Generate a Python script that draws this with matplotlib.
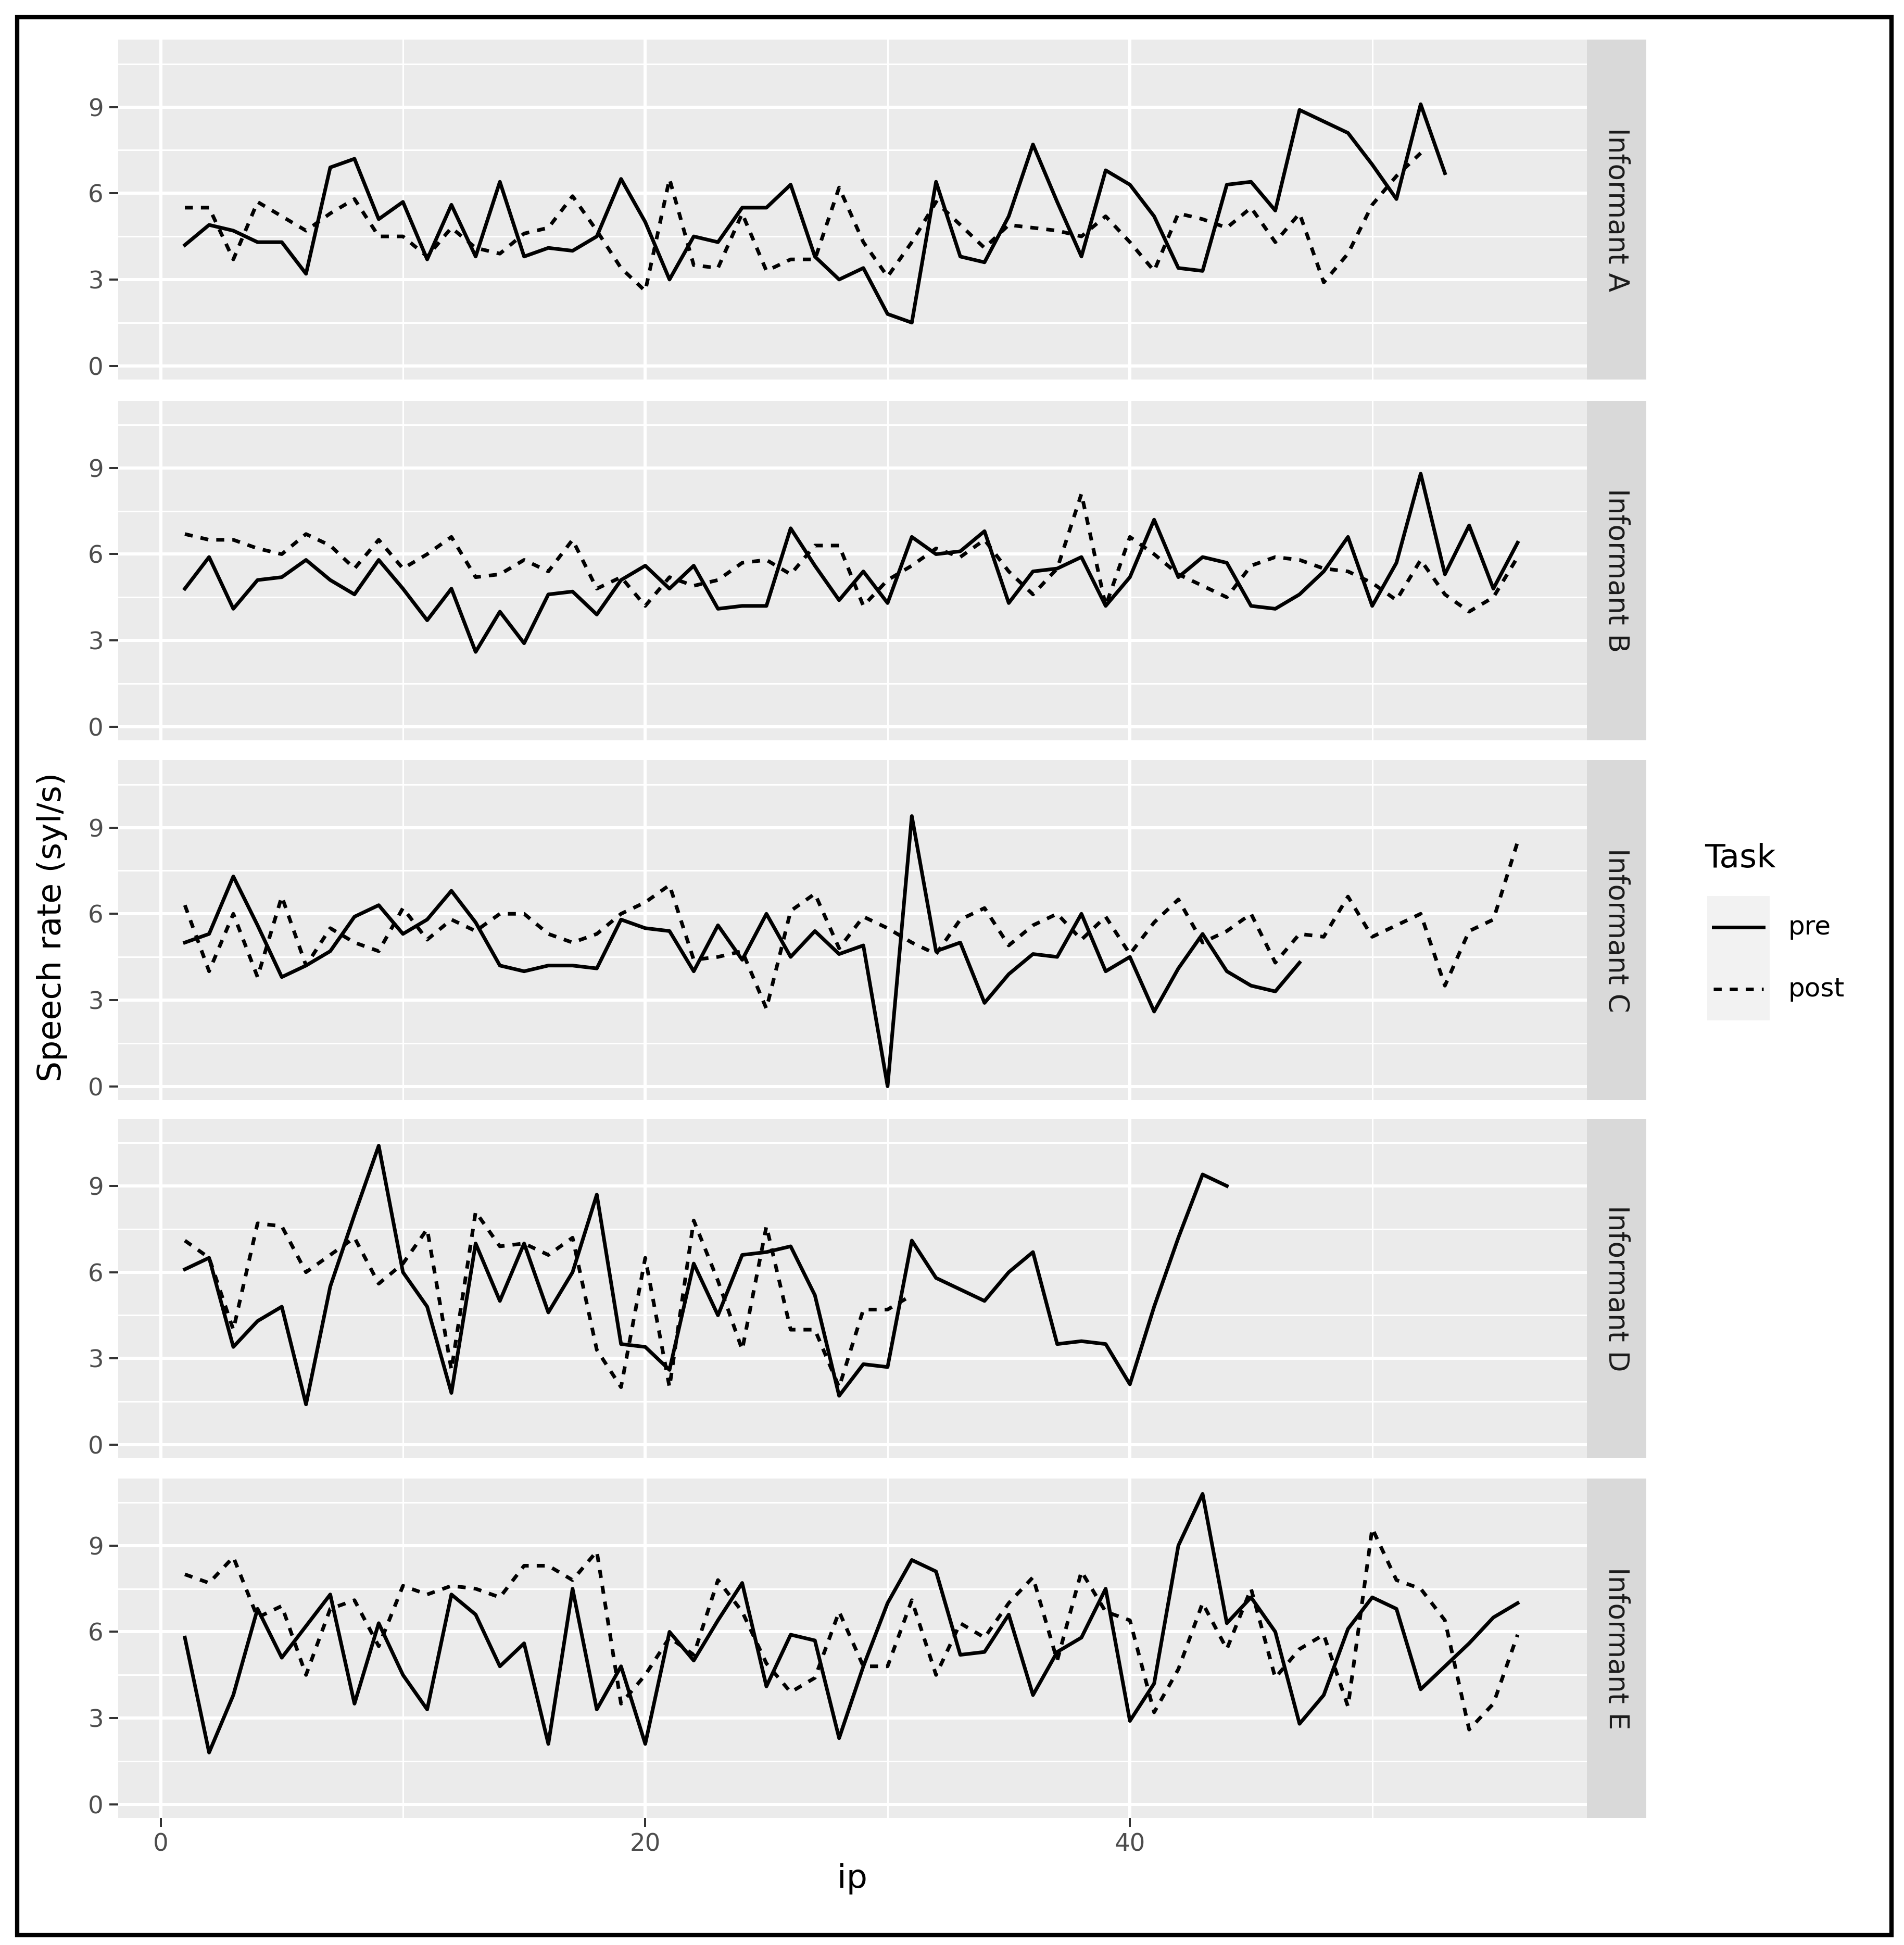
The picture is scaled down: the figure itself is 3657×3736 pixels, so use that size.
import matplotlib
matplotlib.use("Agg")
import matplotlib.pyplot as plt
from matplotlib.lines import Line2D
from matplotlib.patches import Rectangle

informants = ["Informant A", "Informant B", "Informant C", "Informant D", "Informant E"]

pre_A = [4.2,4.9,4.7,4.3,4.3,3.2,6.9,7.2,5.1,5.7,3.7,5.6,3.8,6.4,3.8,4.1,4.0,4.5,6.5,5.0,3.0,4.5,4.3,5.5,5.5,6.3,3.8,3.0,3.4,1.8,1.5,6.4,3.8,3.6,5.2,7.7,5.7,3.8,6.8,6.3,5.2,3.4,3.3,6.3,6.4,5.4,8.9,8.5,8.1,7.0,5.8,9.1,6.7]
post_A = [5.5,5.5,3.7,5.7,5.2,4.7,5.3,5.8,4.5,4.5,3.8,4.8,4.1,3.9,4.6,4.8,5.9,4.7,3.4,2.6,6.5,3.5,3.4,5.3,3.3,3.7,3.7,6.2,4.3,3.1,4.3,5.7,4.9,4.1,4.9,4.8,4.7,4.5,5.2,4.3,3.3,5.3,5.1,4.8,5.5,4.3,5.3,2.9,3.9,5.6,6.6,7.4]
pre_B = [4.8,5.9,4.1,5.1,5.2,5.8,5.1,4.6,5.8,4.8,3.7,4.8,2.6,4.0,2.9,4.6,4.7,3.9,5.1,5.6,4.8,5.6,4.1,4.2,4.2,6.9,5.6,4.4,5.4,4.3,6.6,6.0,6.1,6.8,4.3,5.4,5.5,5.9,4.2,5.2,7.2,5.2,5.9,5.7,4.2,4.1,4.6,5.4,6.6,4.2,5.7,8.8,5.3,7.0,4.8,6.4]
post_B = [6.7,6.5,6.5,6.2,6.0,6.7,6.3,5.5,6.5,5.5,6.0,6.6,5.2,5.3,5.8,5.4,6.5,4.8,5.2,4.2,5.2,4.9,5.1,5.7,5.8,5.3,6.3,6.3,4.2,5.1,5.6,6.2,5.9,6.5,5.4,4.6,5.5,8.1,4.2,6.6,6.0,5.3,4.9,4.5,5.6,5.9,5.8,5.5,5.4,5.0,4.4,5.8,4.6,4.0,4.5,5.9]
pre_C = [5.0,5.3,7.3,5.6,3.8,4.2,4.7,5.9,6.3,5.3,5.8,6.8,5.7,4.2,4.0,4.2,4.2,4.1,5.8,5.5,5.4,4.0,5.6,4.4,6.0,4.5,5.4,4.6,4.9,0.0,9.4,4.7,5.0,2.9,3.9,4.6,4.5,6.0,4.0,4.5,2.6,4.1,5.3,4.0,3.5,3.3,4.3]
post_C = [6.3,4.0,6.0,3.8,6.6,4.2,5.5,5.0,4.7,6.2,5.1,5.8,5.4,6.0,6.0,5.3,5.0,5.3,6.0,6.4,7.0,4.4,4.5,4.7,2.7,6.1,6.7,4.8,5.9,5.5,5.0,4.6,5.8,6.2,4.9,5.6,6.0,5.1,5.9,4.6,5.7,6.5,5.0,5.4,6.0,4.3,5.3,5.2,6.6,5.2,5.6,6.0,3.5,5.4,5.8,8.5]
pre_D = [6.1,6.5,3.4,4.3,4.8,1.4,5.5,8.0,10.4,6.0,4.8,1.8,7.0,5.0,7.0,4.6,6.0,8.7,3.5,3.4,2.6,6.3,4.5,6.6,6.7,6.9,5.2,1.7,2.8,2.7,7.1,5.8,5.4,5.0,6.0,6.7,3.5,3.6,3.5,2.1,4.8,7.2,9.4,9.0]
post_D = [7.1,6.5,4.0,7.7,7.6,6.0,6.6,7.2,5.6,6.3,7.5,2.6,8.1,6.9,7.0,6.6,7.2,3.3,2.0,6.5,2.0,7.8,5.7,3.3,7.6,4.0,4.0,2.0,4.7,4.7,5.2]
pre_E = [5.8,1.8,3.8,6.8,5.1,6.2,7.3,3.5,6.3,4.5,3.3,7.3,6.6,4.8,5.6,2.1,7.5,3.3,4.8,2.1,6.0,5.0,6.4,7.7,4.1,5.9,5.7,2.3,4.8,7.0,8.5,8.1,5.2,5.3,6.6,3.8,5.3,5.8,7.5,2.9,4.2,9.0,10.8,6.3,7.2,6.0,2.8,3.8,6.1,7.2,6.8,4.0,4.8,5.6,6.5,7.0]
post_E = [8.0,7.7,8.6,6.5,6.9,4.5,6.8,7.1,5.5,7.6,7.3,7.6,7.5,7.2,8.3,8.3,7.8,8.8,3.5,4.5,5.8,5.2,7.8,6.7,4.9,3.9,4.4,6.7,4.8,4.8,7.1,4.5,6.3,5.8,7.0,7.9,5.0,8.1,6.7,6.4,3.2,4.7,7.0,5.4,7.5,4.4,5.4,5.9,3.4,9.6,7.8,7.5,6.4,2.6,3.5,5.9]

pre = [pre_A, pre_B, pre_C, pre_D, pre_E]
post = [post_A, post_B, post_C, post_D, post_E]
yticks = [0, 3, 6, 9]
xticks = [0, 20, 40]

fig = plt.figure(figsize=(3657/240, 3736/240), dpi=240)
W, H = 1530, 1563
left, right, sright = 95/W, 1275/W, 1323/W
tops = [32, 322, 611, 899, 1188]
ph = 273
grey = "#EBEBEB"
LW = 2.1
DASH = (0, (2.2, 2.2))
for i in range(5):
    t = tops[i]
    ax = fig.add_axes([left, 1-(t+ph)/H, right-left, ph/H])
    ax.set_facecolor(grey)
    for s in ax.spines.values():
        s.set_visible(False)
    ax.set_xlim(-1.75, 58.85)
    ax.set_ylim(-0.48, 11.34)
    for v in [1.5, 4.5, 7.5, 10.5]:
        ax.axhline(v, color="white", lw=0.9, zorder=0)
    for v in [10, 30, 50]:
        ax.axvline(v, color="white", lw=0.9, zorder=0)
    ax.set_yticks(yticks)
    ax.set_xticks(xticks)
    ax.grid(True, color="white", lw=1.8, zorder=0)
    ax.set_axisbelow(True)
    ax.tick_params(axis="both", colors="#333333", labelcolor="#4D4D4D", labelsize=14, length=5, width=1.2)
    ax.plot(range(1, len(pre[i])+1), pre[i], color="black", lw=LW, ls="-")
    ax.plot(range(1, len(post[i])+1), post[i], color="black", lw=LW, ls=DASH)
    if i < 4:
        ax.tick_params(axis="x", length=0, labelbottom=False)
    else:
        ax.set_xlabel("ip", fontsize=19)
    sax = fig.add_axes([right, 1-(t+ph)/H, sright-right, ph/H])
    sax.set_facecolor("#D9D9D9")
    sax.set_xticks([]); sax.set_yticks([])
    for s in sax.spines.values():
        s.set_visible(False)
    sax.text(0.5, 0.5, informants[i], rotation=-90, ha="center", va="center",
             fontsize=16, color="#1A1A1A", transform=sax.transAxes)

fig.text(42/W, 1-745/H, "Speech rate (syl/s)", rotation=90, ha="center", va="center", fontsize=19)

# legend
fig.text(1370/W, 1-690/H, "Task", ha="left", va="center", fontsize=19)
for j, (lab, ls) in enumerate([("pre", "-"), ("post", DASH)]):
    yc = 745 + j*50
    fig.patches.append(Rectangle((1372/W, 1-(yc+25)/H), 50/W, 50/H, transform=fig.transFigure,
                                 facecolor="#F2F2F2", edgecolor="none"))
    fig.lines.append(Line2D([1377/W, 1417/W], [1-yc/H, 1-yc/H], transform=fig.transFigure,
                            color="black", lw=LW, ls=ls))
    fig.text(1437/W, 1-yc/H, lab, ha="left", va="center", fontsize=15)

fig.patches.append(Rectangle((14/W, 1-1555/H), (1520-14)/W, (1555-14)/H, transform=fig.transFigure,
                             facecolor="none", edgecolor="black", lw=2.5))
fig.savefig("out.png", dpi=240, facecolor="white")
